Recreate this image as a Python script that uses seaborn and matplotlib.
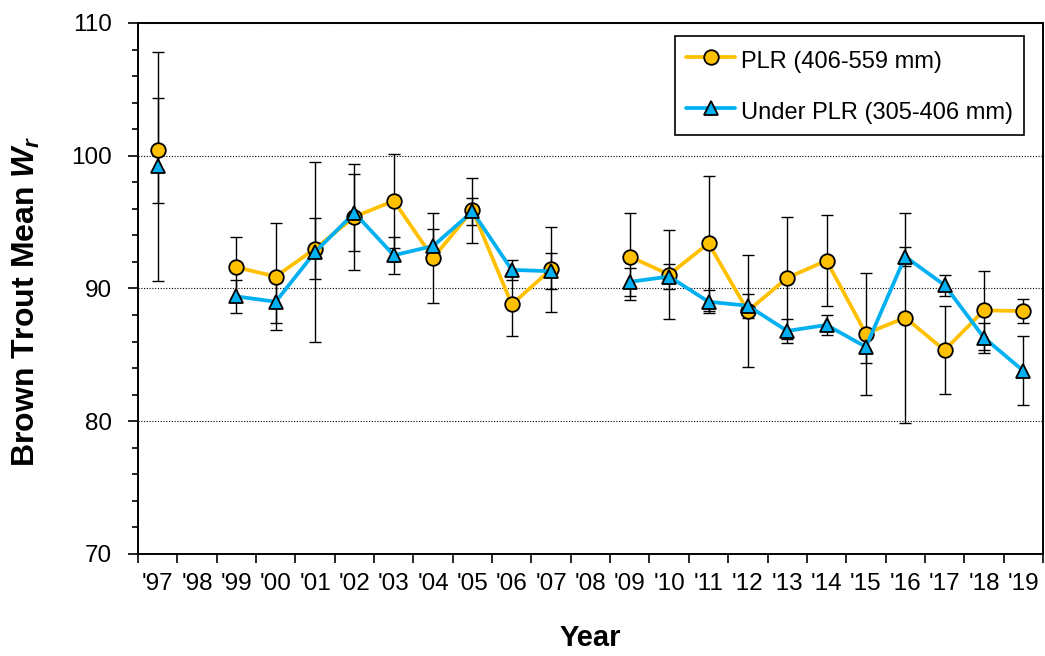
import numpy as np
import pandas as pd
import matplotlib
matplotlib.use("Agg")
import matplotlib.pyplot as plt
import seaborn as sns
from matplotlib.lines import Line2D
from matplotlib.ticker import MultipleLocator, FixedLocator

# Survey years (no sampling in 1998 and 2008)
years = ["'97", "'98", "'99", "'00", "'01", "'02", "'03", "'04", "'05", "'06", "'07",
         "'08", "'09", "'10", "'11", "'12", "'13", "'14", "'15", "'16", "'17", "'18", "'19"]

# Mean relative weight and error-bar half-widths, PLR (406-559 mm)
plr_mean = [100.4, np.nan, 91.6, 90.9, 93.0, 95.4, 96.6, 92.3, 95.9, 88.8, 91.45,
            np.nan, 92.4, 91.05, 93.4, 88.3, 90.8, 92.1, 86.6, 87.8, 85.35, 88.35, 88.3]
plr_err = [3.95, np.nan, 2.3, 4.0, 2.3, 4.0, 3.55, 3.4, 2.45, 2.4, 3.2,
           np.nan, 3.25, 3.35, 5.1, 4.25, 4.6, 3.45, 4.6, 7.9, 3.3, 2.97, 0.92]

# Mean relative weight and error-bar half-widths, Under PLR (305-406 mm)
under_mean = [99.2, np.nan, 89.4, 89.0, 92.75, 95.7, 92.5, 93.2, 95.8, 91.4, 91.3,
              np.nan, 90.5, 90.9, 89.0, 88.7, 86.8, 87.25, 85.6, 92.4, 90.25, 86.3, 83.8]
under_err = [8.6, np.nan, 1.27, 1.6, 6.75, 2.9, 1.4, 1.3, 1.0, 0.75, 1.35,
             np.nan, 1.03, 0.95, 0.85, 0.9, 0.93, 0.78, 1.2, 0.69, 0.8, 1.13, 2.6]

series_names = ["PLR (406-559 mm)", "Under PLR (305-406 mm)"]
series_colors = {series_names[0]: "#FFC000", series_names[1]: "#00B0F0"}
series_markers = {series_names[0]: "o", series_names[1]: "^"}

sns.set_style("ticks")
plt.rcParams["font.family"] = ["Liberation Sans", "DejaVu Sans"]
plt.rcParams["mathtext.fontset"] = "custom"
plt.rcParams["mathtext.it"] = "Liberation Sans:italic:bold"
plt.rcParams["mathtext.rm"] = "Liberation Sans:bold"
for key in ["text.color", "axes.labelcolor", "xtick.color", "ytick.color", "axes.edgecolor"]:
    plt.rcParams[key] = "black"

pos = np.arange(len(years))

# Long table; a new segment starts after every missing year so lines break there
rows = []
for name, vals in zip(series_names, [plr_mean, under_mean]):
    seg = 0
    for p, v in zip(pos, vals):
        if np.isnan(v):
            seg += 1
            continue
        rows.append({"pos": p, "value": v, "series": name, "segment": f"{name}-{seg}"})
df = pd.DataFrame(rows)

fig, ax = plt.subplots(figsize=(10.45, 6.56), dpi=100)
fig.subplots_adjust(left=0.1321, right=0.998, top=0.965, bottom=0.1555)

ax.set_axisbelow(True)
ax.grid(axis="y", which="major", color="black", linestyle=(0, (1, 1.5)), linewidth=0.8)

for vals, errs in [(plr_mean, plr_err), (under_mean, under_err)]:
    ax.errorbar(pos, vals, yerr=errs, fmt="none", ecolor="black", elinewidth=1.0,
                capsize=4, capthick=1.0, zorder=1.5)

MS = 10.5
LW = 2.7
sns.lineplot(data=df, x="pos", y="value", hue="series", style="series",
             units="segment", estimator=None, hue_order=series_names,
             style_order=series_names, palette=series_colors,
             markers=series_markers, dashes=False, linewidth=LW,
             markersize=MS, markeredgecolor="black", markeredgewidth=1.3,
             legend=False, ax=ax, zorder=3)

handles = [Line2D([], [], color=series_colors[n], marker=series_markers[n],
                  markersize=MS, markerfacecolor=series_colors[n],
                  markeredgecolor="black", markeredgewidth=1.3, linewidth=LW)
           for n in series_names]
leg = ax.legend(handles, series_names, loc="upper right",
                bbox_to_anchor=(0.979, 0.9755), borderaxespad=0, frameon=True,
                fancybox=False, edgecolor="black", framealpha=1, fontsize=17,
                handlelength=2.1, handleheight=1.4, handletextpad=0.25,
                labelspacing=1.0, borderpad=0.45)
leg.get_frame().set_linewidth(1.2)

# Axes: categories with ticks at the boundaries between years
ax.set_xlim(-0.5, len(years) - 0.5)
ax.set_xticks(pos)
ax.set_xticklabels(years, fontsize=17.5,
                   fontfamily=["Liberation Sans Narrow", "Liberation Sans"])
ax.xaxis.set_minor_locator(FixedLocator(np.arange(-0.5, len(years), 1)))
ax.tick_params(axis="x", which="major", length=0, pad=13.5, labelcolor="black")
ax.tick_params(axis="x", which="minor", length=6.5, width=1.2, direction="out",
               color="black")

ax.set_ylim(70, 110)
ax.yaxis.set_major_locator(MultipleLocator(10))
ax.yaxis.set_minor_locator(MultipleLocator(2))
ax.tick_params(axis="y", which="major", length=7.5, width=1.2, pad=11,
               labelsize=17.5, direction="out", color="black", labelcolor="black")
ax.tick_params(axis="y", which="minor", length=4.5, width=1.2, direction="out",
               color="black")

ax.set_xlabel("Year", fontsize=21, fontweight="bold", color="black")
ax.set_ylabel(r"Brown Trout Mean $W_r$", fontsize=23, fontweight="bold", color="black")
ax.xaxis.set_label_coords(0.5, -0.131)
ax.yaxis.set_label_coords(-0.106, 0.476)

for s in ax.spines.values():
    s.set_visible(True)
    s.set_color("black")
    s.set_linewidth(1.4)

fig.savefig("out.png", dpi=100)
